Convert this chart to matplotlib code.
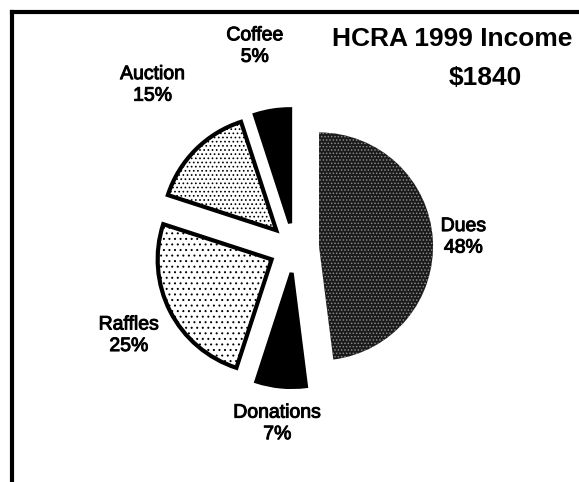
import numpy as np
import matplotlib
matplotlib.use('Agg')
import matplotlib.pyplot as plt
import matplotlib.patheffects as pe
from matplotlib.lines import Line2D

plt.rcParams['font.family'] = ['Liberation Sans', 'DejaVu Sans']
plt.rcParams['hatch.linewidth'] = 0.7

# data
categories = ['Dues', 'Donations', 'Raffles', 'Auction', 'Coffee']
percents = [48, 7, 25, 15, 5]
title = 'HCRA 1999 Income'
total = '$1840'

# styling per slice
faces = ['#1a1a1a', 'black', 'white', 'white', 'black']
hatches = ['.....', None, '...', '....', None]
# label placement (distance from pie centre in radii, angle nudge in degrees)
lab_dist = [1.49, 1.55, 1.64, 1.89, 1.80]
lab_nudge = [0, 0, 1, -4, 2]

fig = plt.figure(figsize=(5.79, 4.82), dpi=100)
ax = fig.add_axes([0, 0, 1, 1])

wedges, _ = ax.pie(percents, explode=[0.22] * len(percents), startangle=90,
                   counterclock=False, colors=faces,
                   wedgeprops=dict(edgecolor='black', linewidth=3))

for w, h in zip(wedges, hatches):
    if h is not None:
        w.set_hatch(h)
# Dues: light speckles on dark fill
wedges[0].set_edgecolor('#8a8a8a')
wedges[0].set_linewidth(0)

thick = [pe.withStroke(linewidth=0.7, foreground='black')]
for w, name, p, d, n in zip(wedges, categories, percents, lab_dist, lab_nudge):
    ang = np.deg2rad(0.5 * (w.theta1 + w.theta2) + n)
    ax.text(d * np.cos(ang), d * np.sin(ang), '{}\n{}%'.format(name, p),
            ha='center', va='center', fontsize=14, linespacing=1.35,
            path_effects=thick)

ax.set_aspect('auto')
ax.set_xlim(-294 / 114, 285 / 114)
ax.set_ylim(-234 / 114, 248 / 114)
ax.axis('off')

fig.text(0.781, 0.919, title, ha='center', va='center', fontsize=19, fontweight='bold')
fig.text(0.838, 0.838, total, ha='center', va='center', fontsize=19, fontweight='bold')

# frame: top and left edges only
fig.add_artist(Line2D([0.0207, 1.0], [0.976, 0.976], color='black', lw=3, transform=fig.transFigure))
fig.add_artist(Line2D([0.0207, 0.0207], [0.0, 0.976], color='black', lw=3, transform=fig.transFigure))

fig.savefig('out.png', dpi=100)
